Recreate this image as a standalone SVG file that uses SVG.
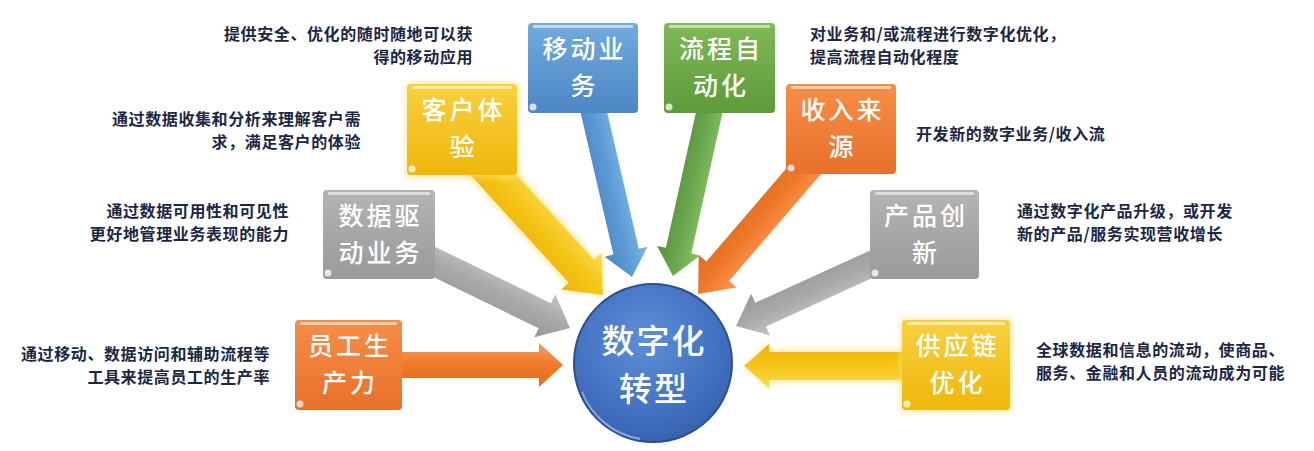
<svg xmlns="http://www.w3.org/2000/svg" width="1314" height="451" viewBox="0 0 1314 451">
<defs>
<linearGradient id="gBlue" x1="0" y1="0" x2="0" y2="1"><stop offset="0" stop-color="#72abde"/><stop offset="1" stop-color="#4c86c6"/></linearGradient>
<linearGradient id="gGreen" x1="0" y1="0" x2="0" y2="1"><stop offset="0" stop-color="#80b956"/><stop offset="1" stop-color="#5e9a3b"/></linearGradient>
<linearGradient id="gYellow" x1="0" y1="0" x2="0" y2="1"><stop offset="0" stop-color="#f8d040"/><stop offset="1" stop-color="#f0b70a"/></linearGradient>
<linearGradient id="gOrange" x1="0" y1="0" x2="0" y2="1"><stop offset="0" stop-color="#f68e48"/><stop offset="1" stop-color="#e8702a"/></linearGradient>
<linearGradient id="gGray" x1="0" y1="0" x2="0" y2="1"><stop offset="0" stop-color="#b4b4b4"/><stop offset="1" stop-color="#9a9a9a"/></linearGradient>
<linearGradient id="aBlue" x1="0" y1="0" x2="0" y2="1"><stop offset="0" stop-color="#82b6e4"/><stop offset="0.5" stop-color="#5b9bd5"/><stop offset="1" stop-color="#4a86c4"/></linearGradient>
<linearGradient id="aGreen" x1="0" y1="0" x2="0" y2="1"><stop offset="0" stop-color="#8cc262"/><stop offset="0.5" stop-color="#6aa84f"/><stop offset="1" stop-color="#55913a"/></linearGradient>
<linearGradient id="aYellow" x1="0" y1="0" x2="0" y2="1"><stop offset="0" stop-color="#fbd851"/><stop offset="0.5" stop-color="#f5c518"/><stop offset="1" stop-color="#eeb30a"/></linearGradient>
<linearGradient id="aOrange" x1="0" y1="0" x2="0" y2="1"><stop offset="0" stop-color="#f89a5a"/><stop offset="0.5" stop-color="#f07a2a"/><stop offset="1" stop-color="#e06a20"/></linearGradient>
<linearGradient id="aGray" x1="0" y1="0" x2="0" y2="1"><stop offset="0" stop-color="#c4c4c4"/><stop offset="0.5" stop-color="#a8a8a8"/><stop offset="1" stop-color="#999999"/></linearGradient>
<radialGradient id="gCircle" cx="0.45" cy="0.35" r="0.7"><stop offset="0" stop-color="#5d8fd8"/><stop offset="0.7" stop-color="#416fbf"/><stop offset="1" stop-color="#3560a8"/></radialGradient>
<filter id="glow" x="-20%" y="-20%" width="140%" height="140%"><feGaussianBlur stdDeviation="2.5"/></filter>
</defs>
<style>
.box{stroke:none}
.hl{fill:#ffffff;opacity:0.55}
.curl{fill:#ffffff;opacity:0.75}
.lbl{font-family:"Noto Sans CJK SC","Noto Sans",sans-serif;font-size:25px;letter-spacing:3px;font-weight:500;fill:#ffffff;text-anchor:middle}
.ctr{font-family:"Noto Sans CJK SC","Noto Sans",sans-serif;font-size:33px;letter-spacing:2px;font-weight:500;fill:#ffffff;text-anchor:middle}
.desc{font-family:"Noto Sans CJK SC","Noto Sans",sans-serif;font-size:16px;letter-spacing:0.6px;font-weight:700;fill:#1b2745}
.end{text-anchor:end}
.arr{stroke:none}
</style>
<rect x="0" y="0" width="1314" height="451" fill="#ffffff"/>

<g id="connectors">
  <g transform="translate(591,100) rotate(76.96)"><polygon class="arr" fill="url(#aBlue)" points="0,-13 155.7,-13 155.7,-22 181.7,0 155.7,22 155.7,13 0,13"/></g>
  <g transform="translate(712,100) rotate(102.5)"><polygon class="arr" fill="url(#aGreen)" points="0,-13 154.3,-13 154.3,-22 180.3,0 154.3,22 154.3,13 0,13"/></g>
  <g transform="translate(480,160) rotate(47.7)"><polygon fill="#fbe27a" opacity="0.6" filter="url(#glow)" points="0,-20 150.6,-20 150.6,-30 182.6,0 150.6,30 150.6,20 0,20"/><polygon class="arr" fill="url(#aYellow)" points="0,-17 150.6,-17 150.6,-27 182.6,0 150.6,27 150.6,17 0,17"/></g>
  <g transform="translate(420,255) rotate(25.95)"><polygon class="arr" fill="url(#aGray)" points="0,-14 138.8,-14 138.8,-24 166.8,0 138.8,24 138.8,14 0,14"/></g>
  <g transform="translate(390,365)"><polygon class="arr" fill="url(#aOrange)" points="0,-13 149,-13 149,-22 173,0 149,22 149,13 0,13"/></g>
  <g transform="translate(822,150) rotate(130.7)"><polygon class="arr" fill="url(#aOrange)" points="0,-15 160,-15 160,-25 190,0 160,25 160,15 0,15"/></g>
  <g transform="translate(885,258) rotate(155.5)"><polygon class="arr" fill="url(#aGray)" points="0,-13 136.7,-13 136.7,-23 163.7,0 136.7,23 136.7,13 0,13"/></g>
  <g transform="translate(915,366) rotate(180)"><polygon fill="#fbe27a" opacity="0.6" filter="url(#glow)" points="0,-17 146,-17 146,-25 171,0 146,25 146,17 0,17"/><polygon class="arr" fill="url(#aYellow)" points="0,-14 146,-14 146,-22 171,0 146,22 146,14 0,14"/></g>
</g>

<g id="node-center">
  <circle cx="653" cy="363" r="79" fill="url(#gCircle)" stroke="#2b4f90" stroke-width="2"/>
  <path d="M 582 392 A 76 76 0 0 0 640 439" fill="none" stroke="#a9c4ec" stroke-width="2" opacity="0.7"/>
  <text class="ctr" x="654" y="353">数字化</text>
  <text class="ctr" x="654" y="401">转型</text>
</g>

<g id="node-mobile">
  <rect class="box" x="528" y="23" width="110" height="90" rx="4" fill="url(#gBlue)"/>
  <rect class="hl" x="533" y="25" width="100" height="3" rx="1"/>
  <circle class="curl" cx="533" cy="107" r="3.5"/>
  <text class="lbl" x="584.5" y="58">移动业</text>
  <text class="lbl" x="584.5" y="95">务</text>
</g>

<g id="node-process">
  <rect class="box" x="664" y="23" width="111" height="90" rx="4" fill="url(#gGreen)"/>
  <rect class="hl" x="669" y="25" width="101" height="3" rx="1"/>
  <circle class="curl" cx="669" cy="107" r="3.5"/>
  <text class="lbl" x="721" y="58">流程自</text>
  <text class="lbl" x="721" y="95">动化</text>
</g>

<g id="node-customer">
  <rect x="404" y="81" width="116" height="98" rx="6" fill="#fbe27a" opacity="0.5" filter="url(#glow)"/>
  <rect class="box" x="407" y="84" width="110" height="91" rx="4" fill="url(#gYellow)"/>
  <rect class="hl" x="412" y="86" width="100" height="3" rx="1"/>
  <circle class="curl" cx="412" cy="169" r="3.5"/>
  <text class="lbl" x="463.5" y="119">客户体</text>
  <text class="lbl" x="463.5" y="156">验</text>
</g>

<g id="node-revenue">
  <rect class="box" x="786" y="84" width="110" height="90" rx="4" fill="url(#gOrange)"/>
  <rect class="hl" x="791" y="86" width="100" height="3" rx="1"/>
  <circle class="curl" cx="791" cy="168" r="3.5"/>
  <text class="lbl" x="842.5" y="119">收入来</text>
  <text class="lbl" x="842.5" y="156">源</text>
</g>

<g id="node-data">
  <rect class="box" x="323" y="190" width="112" height="89" rx="4" fill="url(#gGray)"/>
  <rect class="hl" x="328" y="192" width="102" height="3" rx="1"/>
  <circle class="curl" cx="328" cy="273" r="3.5"/>
  <text class="lbl" x="380.5" y="225">数据驱</text>
  <text class="lbl" x="380.5" y="262">动业务</text>
</g>

<g id="node-product">
  <rect class="box" x="870" y="190" width="109" height="89" rx="4" fill="url(#gGray)"/>
  <rect class="hl" x="875" y="192" width="99" height="3" rx="1"/>
  <circle class="curl" cx="875" cy="273" r="3.5"/>
  <text class="lbl" x="926" y="225">产品创</text>
  <text class="lbl" x="926" y="262">新</text>
</g>

<g id="node-employee">
  <rect class="box" x="295" y="320" width="107" height="90" rx="4" fill="url(#gOrange)"/>
  <rect class="hl" x="300" y="322" width="97" height="3" rx="1"/>
  <circle class="curl" cx="300" cy="404" r="3.5"/>
  <text class="lbl" x="350" y="355">员工生</text>
  <text class="lbl" x="350" y="392">产力</text>
</g>

<g id="node-supply">
  <rect x="899" y="317" width="114" height="96" rx="6" fill="#fbe27a" opacity="0.5" filter="url(#glow)"/>
  <rect class="box" x="902" y="320" width="108" height="90" rx="4" fill="url(#gYellow)"/>
  <rect class="hl" x="907" y="322" width="98" height="3" rx="1"/>
  <circle class="curl" cx="907" cy="404" r="3.5"/>
  <text class="lbl" x="957.5" y="355">供应链</text>
  <text class="lbl" x="957.5" y="392">优化</text>
</g>

<g id="descriptions">
  <text class="desc end" x="473" y="40">提供安全、优化的随时随地可以获</text>
  <text class="desc end" x="473" y="63">得的移动应用</text>
  <text class="desc end" x="361" y="125">通过数据收集和分析来理解客户需</text>
  <text class="desc end" x="361" y="148">求，满足客户的体验</text>
  <text class="desc end" x="289" y="217">通过数据可用性和可见性</text>
  <text class="desc end" x="289" y="240">更好地管理业务表现的能力</text>
  <text class="desc end" x="270" y="360">通过移动、数据访问和辅助流程等</text>
  <text class="desc end" x="270" y="383">工具来提高员工的生产率</text>
  <text class="desc" x="810" y="40">对业务和/或流程进行数字化优化，</text>
  <text class="desc" x="810" y="63">提高流程自动化程度</text>
  <text class="desc" x="916" y="140">开发新的数字业务/收入流</text>
  <text class="desc" x="1017" y="217">通过数字化产品升级，或开发</text>
  <text class="desc" x="1017" y="240">新的产品/服务实现营收增长</text>
  <text class="desc" x="1036" y="356">全球数据和信息的流动，使商品、</text>
  <text class="desc" x="1036" y="379">服务、金融和人员的流动成为可能</text>
</g>
</svg>
